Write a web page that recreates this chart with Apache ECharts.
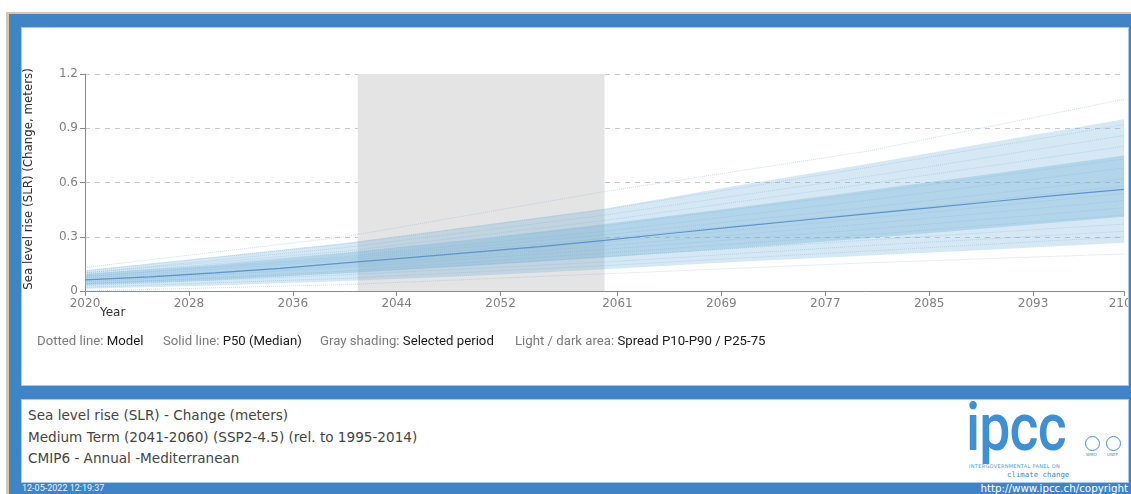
<!DOCTYPE html>
<html>
<head>
<meta charset="utf-8">
<script src="https://cdn.jsdelivr.net/npm/echarts@6/dist/echarts.min.js"></script>
<style>
  html, body { margin: 0; padding: 0; }
  body { width: 1131px; height: 494px; overflow: hidden; background: #fff; position: relative; font-family: "DejaVu Sans", sans-serif; }
  #tan { position: absolute; left: 6px; top: 12px; right: 0; bottom: 0; background: #dcc4a4; }
  #blue { position: absolute; left: 9px; top: 14px; right: 0; bottom: 0; background: #3f84c7; }
  .panel { position: absolute; left: 22px; width: 1106px; background: #fff; box-shadow: 0 0 0 1px #a6c8ec; overflow: hidden; }
  #panel1 { top: 28px; height: 357px; }
  #panel2 { top: 400px; height: 82px; }
  #chart { position: absolute; left: 0; top: 0; width: 1106px; height: 357px; }
  .leg { position: absolute; top: 305px; font-family: Roboto, "Noto Sans", sans-serif; font-size: 13.2px; line-height: 15px; white-space: nowrap; }
  .leg .k { color: #7a7a7a; }
  .leg .v { color: #1a1a1a; }
  .info { position: absolute; left: 6px; font-family: "DejaVu Sans", sans-serif; font-size: 13.6px; line-height: 16px; color: #444; white-space: nowrap; }
  #logo { position: absolute; left: 944px; top: -12px; font-family: Roboto, sans-serif; font-weight: 500; font-size: 66px; color: #3d8fd6; transform: scaleX(0.84); transform-origin: left top; letter-spacing: -1px; line-height: 80px; }
  #logo1 { position: absolute; left: 947px; top: 63px; font-family: "DejaVu Sans", sans-serif; font-size: 5px; color: #5a9ad6; letter-spacing: 0.3px; white-space: nowrap; }
  #logo2 { position: absolute; left: 985px; top: 70px; font-family: "DejaVu Sans Mono", monospace; font-size: 7.4px; color: #3d8fd6; white-space: nowrap; }
  .emb { position: absolute; top: 36px; width: 15px; height: 15px; border-radius: 50%; border: 1.5px solid #4a8fd2; box-sizing: border-box; }
  .embt { position: absolute; top: 52px; font-size: 4px; color: #4a8fd2; font-family: "DejaVu Sans", sans-serif; }
  #stamp { position: absolute; left: 22px; top: 483px; font-family: Roboto, sans-serif; font-size: 9px; line-height: 11px; color: #eaf2fb; }
  #url { position: absolute; right: 3px; top: 482px; font-family: "DejaVu Sans", sans-serif; font-size: 10.3px; line-height: 12px; color: #ffffff; }
</style>
</head>
<body>
<div id="tan"></div>
<div id="blue"></div>
<div id="panel1" class="panel">
  <div id="chart"></div>
  <div class="leg" style="left:15px"><span class="k">Dotted line:</span> <span class="v">Model</span></div>
  <div class="leg" style="left:141px"><span class="k">Solid line:</span> <span class="v">P50 (Median)</span></div>
  <div class="leg" style="left:298px"><span class="k">Gray shading:</span> <span class="v">Selected period</span></div>
  <div class="leg" style="left:493px"><span class="k">Light / dark area:</span> <span class="v">Spread P10-P90 / P25-75</span></div>
</div>
<div id="panel2" class="panel">
  <div class="info" style="top:7px">Sea level rise (SLR) - Change (meters)</div>
  <div class="info" style="top:29px">Medium Term (2041-2060) (SSP2-4.5) (rel. to 1995-2014)</div>
  <div class="info" style="top:50px">CMIP6 - Annual -Mediterranean</div>
  <div id="logo">ipcc</div>
  <div id="logo1">INTERGOVERNMENTAL PANEL ON</div>
  <div id="logo2">climate change</div>
  <div class="emb" style="left:1063px"></div>
  <div class="embt" style="left:1064px">WMO</div>
  <div class="emb" style="left:1084px"></div>
  <div class="embt" style="left:1085px">UNEP</div>
</div>
<div id="stamp">12-05-2022 12:19:37</div>
<div id="url">http://www.ipcc.ch/copyright</div>

<script>
// ---------------- data ----------------
const bandYears = [2020, 2030, 2040, 2050, 2060, 2070, 2080, 2090, 2100];
const p10 = [0.012, 0.030, 0.055, 0.085, 0.120, 0.160, 0.195, 0.230, 0.267];
const p25 = [0.033, 0.060, 0.100, 0.140, 0.185, 0.235, 0.290, 0.350, 0.410];
const p75 = [0.095, 0.145, 0.210, 0.285, 0.370, 0.460, 0.555, 0.650, 0.750];
const p90 = [0.115, 0.190, 0.265, 0.360, 0.455, 0.580, 0.700, 0.825, 0.950];

const medianYears = [2020, 2025, 2030, 2035, 2040, 2045, 2050, 2055, 2060, 2065, 2070, 2075, 2080, 2085, 2090, 2095, 2100];
const p50 = [0.061, 0.078, 0.100, 0.125, 0.155, 0.185, 0.215, 0.245, 0.280, 0.318, 0.355, 0.390, 0.425, 0.460, 0.495, 0.530, 0.5625];

const modelYears = [2020, 2040, 2060, 2080, 2100];
const modelRuns = [
  [0.130, 0.300, 0.550, 0.770, 1.060],
  [0.110, 0.260, 0.450, 0.680, 0.920],
  [0.100, 0.240, 0.420, 0.630, 0.860],
  [0.100, 0.220, 0.390, 0.590, 0.800],
  [0.090, 0.210, 0.360, 0.540, 0.730],
  [0.080, 0.190, 0.330, 0.500, 0.680],
  [0.080, 0.180, 0.310, 0.460, 0.620],
  [0.070, 0.170, 0.290, 0.430, 0.580],
  [0.060, 0.150, 0.270, 0.400, 0.540],
  [0.060, 0.140, 0.250, 0.370, 0.500],
  [0.050, 0.130, 0.230, 0.340, 0.460],
  [0.040, 0.110, 0.210, 0.310, 0.420],
  [0.040, 0.100, 0.190, 0.280, 0.370],
  [0.030, 0.090, 0.160, 0.250, 0.330],
  [0.020, 0.070, 0.140, 0.220, 0.300],
  [0.000, 0.035, 0.095, 0.155, 0.205]
];

const selectedPeriod = [2041, 2060];
const xTickYears = [2020, 2028, 2036, 2044, 2052, 2061, 2069, 2077, 2085, 2093, 2100];
const xRange = [2020, 2100];
const yRange = [0, 1.2];
const yStep = 0.3;

const yAxisTitle = 'Sea level rise (SLR) (Change, meters)';
const xAxisTitle = 'Year';

// ---------------- build options ----------------
const zip = (xs, ys) => xs.map((x, i) => [x, ys[i]]);

const LIGHT = 'rgba(107,174,214,0.28)';
const DARK_OVER = 'rgba(107,174,214,0.32)';

// band polygon drawn through the cartesian scales (api.coord)
function bandSeries(name, years, lo, hi, color) {
  return {
    name, type: 'custom', silent: true, z: 2,
    data: years.map((y, i) => [y, lo[i], hi[i]]),
    encode: { x: 0, y: [1, 2] },
    renderItem: (params, api) => {
      if (params.dataIndex !== 0) return null;
      const top = [], bot = [];
      for (let i = 0; i < years.length; i++) {
        top.push(api.coord([years[i], hi[i]]));
        bot.push(api.coord([years[i], lo[i]]));
      }
      return { type: 'polygon', shape: { points: top.concat(bot.reverse()) }, style: { fill: color } };
    }
  };
}

const series = [
  {
    name: 'period', type: 'line', data: zip(medianYears, p50),
    symbol: 'none', silent: true, z: 1, lineStyle: { opacity: 0 },
    markArea: {
      silent: true,
      itemStyle: { color: '#e4e4e4' },
      data: [[{ xAxis: selectedPeriod[0], yAxis: yRange[1] }, { xAxis: selectedPeriod[1], yAxis: yRange[0] }]]
    }
  },
  bandSeries('P10-P90', bandYears, p10, p90, LIGHT),
  bandSeries('P25-P75', bandYears, p25, p75, DARK_OVER)
];

modelRuns.forEach((run, i) => {
  series.push({
    name: 'Model ' + (i + 1), type: 'line', data: zip(modelYears, run),
    symbol: 'none', silent: true, z: 3,
    lineStyle: { type: 'dotted', width: 1, color: 'rgba(125,178,222,0.42)' }
  });
});

series.push({
  name: 'P50', type: 'line', data: zip(medianYears, p50),
  symbol: 'none', silent: true, z: 4,
  lineStyle: { width: 1.2, color: '#5e93cd' }
});

const chart = echarts.init(document.getElementById('chart'), null, { renderer: 'canvas' });
chart.setOption({
  animation: false,
  grid: { left: 63, top: 46, right: 4, bottom: 94, containLabel: false, outerBoundsMode: 'none' },
  xAxis: {
    type: 'value', min: xRange[0], max: xRange[1],
    axisLine: { show: true, lineStyle: { color: '#8a8a8a', width: 1 } },
    axisTick: { show: true, length: 5, lineStyle: { color: '#8a8a8a' }, customValues: xTickYears },
    axisLabel: { color: '#808080', fontSize: 12, fontFamily: 'DejaVu Sans', margin: 7, customValues: xTickYears,
                 hideOverlap: false, formatter: v => String(v) },
    splitLine: { show: false }
  },
  yAxis: {
    type: 'value', min: yRange[0], max: yRange[1], interval: yStep,
    axisLine: { show: true, lineStyle: { color: '#8a8a8a', width: 1 } },
    axisTick: { show: true, length: 5, lineStyle: { color: '#8a8a8a' } },
    axisLabel: { color: '#808080', fontSize: 12, fontFamily: 'DejaVu Sans', margin: 7 },
    splitLine: { show: true, lineStyle: { color: '#c9c9c9', type: [5, 5], width: 1 } }
  },
  graphic: [
    { type: 'text', x: 7, y: 151, rotation: Math.PI / 2,
      style: { text: yAxisTitle, fill: '#333', font: '11.8px "DejaVu Sans"', align: 'center', verticalAlign: 'middle' } },
    { type: 'text', x: 78, y: 285,
      style: { text: xAxisTitle, fill: '#333', font: '12px "DejaVu Sans"', align: 'left', verticalAlign: 'middle' } }
  ],
  series
});
</script>
</body>
</html>
